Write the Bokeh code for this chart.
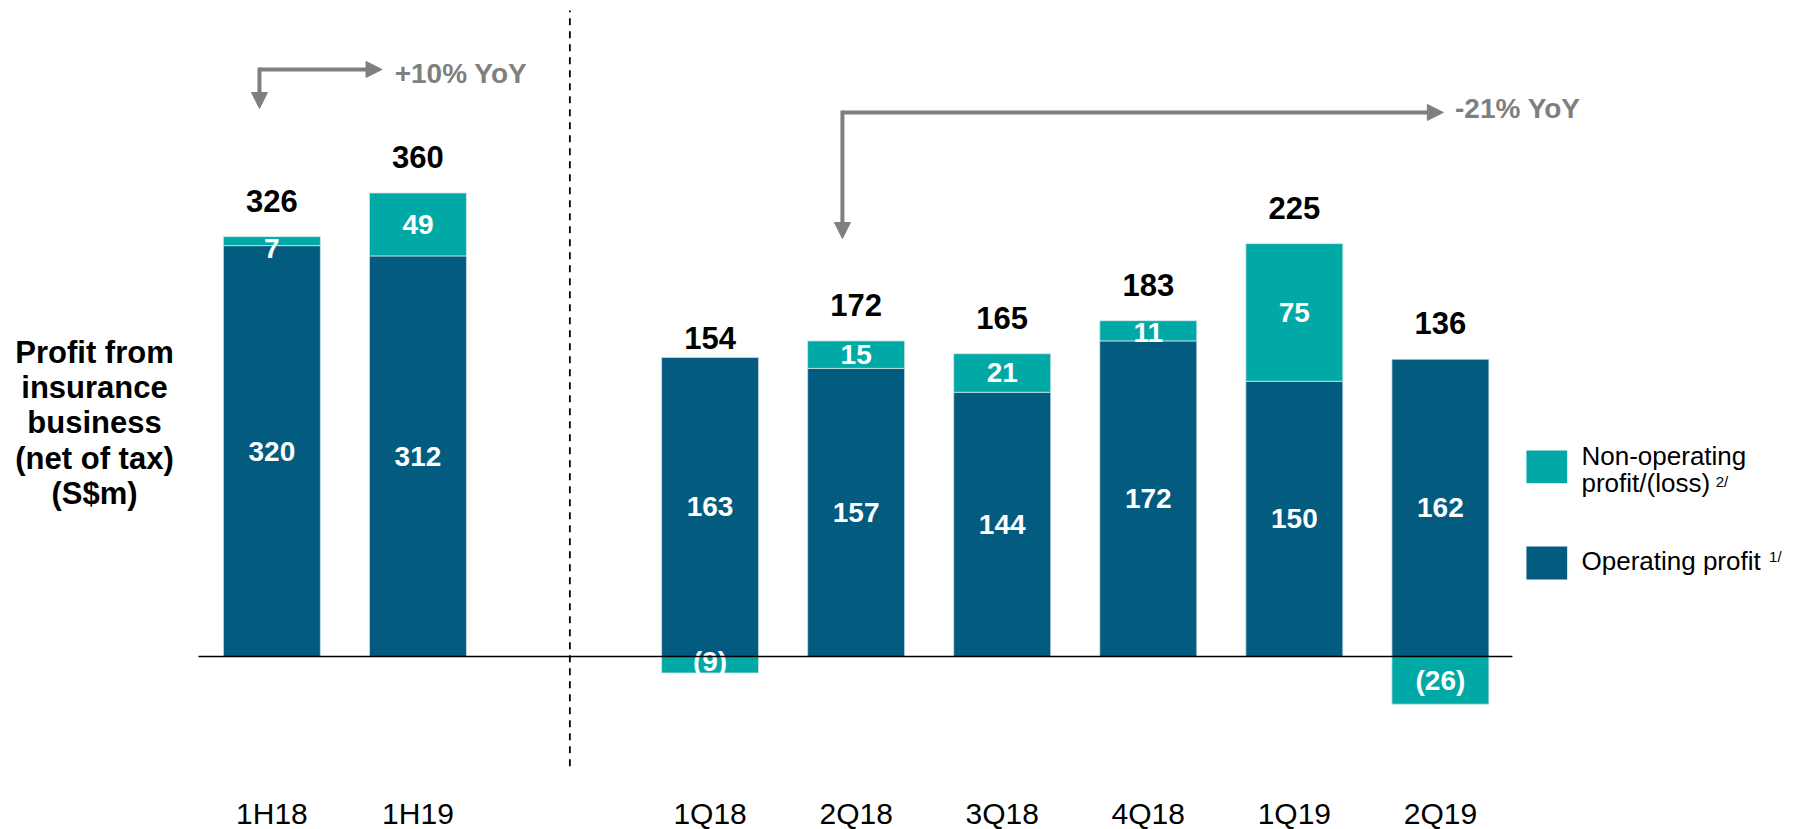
from bokeh.plotting import figure
from bokeh.models import Range1d, Arrow, NormalHead, ColumnDataSource
from bokeh.core.properties import value
from bokeh.embed import file_html
from bokeh.resources import INLINE

# ---------------- data ----------------
categories = ["1H18", "1H19", "1Q18", "2Q18", "3Q18", "4Q18", "1Q19", "2Q19"]
period_type = ["half", "half", "quarter", "quarter", "quarter", "quarter", "quarter", "quarter"]
operating = [320, 312, 163, 157, 144, 172, 150, 162]
non_operating = [7, 49, -9, 15, 21, 11, 75, -26]
totals = [326, 360, 154, 172, 165, 183, 225, 136]
title_lines = ["Profit from", "insurance", "business", "(net of tax)", "(S$m)"]
legend_nonop = ["Non-operating", "profit/(loss)"]
legend_op = ["Operating profit"]
legend_notes = ["2/", "1/"]
yoy_labels = ["+10% YoY", "-21% YoY"]

# ---------------- style ----------------
TEAL = "#00A9A6"
DARK = "#035B7F"
GRAY = "#7F7F7F"
FONT = value("Liberation Sans")
W, H = 1802, 829
BASE_Y = 656          # pixel row of the zero line inside the frame
HALF_PX = 1.284       # px per S$m for half-year bars
Q_PX = 1.835          # px per S$m for quarterly bars
BAR_W = 0.664

p = figure(width=W, height=H, output_backend="svg", toolbar_location=None,
           x_range=Range1d(-1.858, 10.479),
           y_range=Range1d(-(H - BASE_Y) / HALF_PX, BASE_Y / HALF_PX),
           x_axis_location=None, y_axis_location=None, min_border=0,
           outline_line_color=None, title_location=None)
p.extra_y_ranges = {"q": Range1d(-(H - BASE_Y) / Q_PX, BASE_Y / Q_PX)}
p.grid.visible = False
p.background_fill_color = "white"
p.border_fill_color = "white"

# x positions: one empty slot between the half-year and quarterly groups
pos = [i + (1 if period_type[i] == "quarter" else 0) for i in range(len(categories))]

for grp, rname, pxu in (("half", "default", HALF_PX), ("quarter", "q", Q_PX)):
    idx = [i for i in range(len(categories)) if period_type[i] == grp]
    xs = [pos[i] for i in idx]
    op = [operating[i] for i in idx]
    no = [non_operating[i] for i in idx]
    tt = [totals[i] for i in idx]
    t_bot = [o if n >= 0 else n for o, n in zip(op, no)]
    t_top = [o + n if n >= 0 else 0 for o, n in zip(op, no)]
    src = ColumnDataSource(dict(x=xs, op=op, zero=[0] * len(xs), t_bot=t_bot, t_top=t_top))
    p.vbar(x="x", bottom="zero", top="op", width=BAR_W, source=src, y_range_name=rname,
           fill_color=DARK, line_color="#CFE0E8", line_width=0.8)
    p.vbar(x="x", bottom="t_bot", top="t_top", width=BAR_W, source=src, y_range_name=rname,
           fill_color=TEAL, line_color="#CFE6E6", line_width=0.8)

    # white segment labels
    op_src = ColumnDataSource(dict(x=xs, y=[o / 2 for o in op], t=[str(o) for o in op]))
    p.text(x="x", y="y", text="t", source=op_src, y_range_name=rname,
           text_font=FONT, text_font_size="28px", text_font_style="bold",
           text_color="white", text_align="center", text_baseline="middle")
    seg_y, seg_off, seg_t = [], [], []
    for b, t, n in zip(t_bot, t_top, no):
        seg_y.append((b + t) / 2)
        h_px = abs(t - b) * pxu
        shift = max(0.0, (24 - h_px) / 2)
        seg_off.append(shift if n >= 0 else -shift)
        seg_t.append(str(n) if n >= 0 else "(%d)" % abs(n))
    nsrc = ColumnDataSource(dict(x=xs, y=seg_y, off=seg_off, t=seg_t))
    p.text(x="x", y="y", text="t", y_offset="off", source=nsrc, y_range_name=rname,
           text_font=FONT, text_font_size="28px", text_font_style="bold",
           text_color="white", text_align="center", text_baseline="middle")

    # totals above bars
    base = [t if n > -20 else o for t, n, o in zip(tt, no, op)]
    base = [max(b, o + max(n, 0)) if n >= 0 else b for b, o, n in zip(base, op, no)]
    tsrc = ColumnDataSource(dict(x=xs, y=base, t=[str(v) for v in tt]))
    p.text(x="x", y="y", text="t", y_offset=-36, source=tsrc, y_range_name=rname,
           text_font=FONT, text_font_size="31px", text_font_style="bold",
           text_color="black", text_align="center", text_baseline="middle")

# zero line and divider
p.segment(x0=[pos[0] - 0.5025], x1=[pos[-1] + 0.493], y0=[0], y1=[0],
          line_color="black", line_width=1.5)
p.segment(x0=[2.04], x1=[2.04], y0=[-85.4], y1=[503.1],
          line_color="black", line_width=1.8, line_dash="7 6")

# category labels under the bars
p.text(x=pos, y=[p.y_range.start] * len(pos), text=categories, y_offset=-16,
       text_font=FONT, text_font_size="30px", text_color="black",
       text_align="center", text_baseline="middle")

# y-axis title (left)
p.text(x=[-1.2145] * len(title_lines), y=[237.0 - 27.49 * i for i in range(len(title_lines))],
       text=title_lines, text_font=FONT, text_font_size="31px", text_font_style="bold",
       text_color="black", text_align="center", text_baseline="middle")

# YoY elbow arrows
def elbow(cx, cy, tip_y, tip_x, rname, pxu):
    ext = 2.0 / pxu
    p.add_layout(Arrow(x_start=cx, y_start=cy + ext, x_end=cx, y_end=tip_y, y_range_name=rname,
                       line_color=GRAY, line_width=4,
                       end=NormalHead(size=16, fill_color=GRAY, line_color=GRAY)))
    p.add_layout(Arrow(x_start=cx, y_start=cy, x_end=tip_x, y_end=cy, y_range_name=rname,
                       line_color=GRAY, line_width=4,
                       end=NormalHead(size=16, fill_color=GRAY, line_color=GRAY)))

elbow(-0.085, 457.2, 426.8, 0.754, "default", HALF_PX)
elbow(3.906, 296.5, 227.8, 8.02, "q", Q_PX)
p.text(x=[0.8407], y=[453.8], text=[yoy_labels[0]], text_font=FONT, text_font_size="28px",
       text_font_style="bold", text_color=GRAY, text_align="left", text_baseline="middle")
p.text(x=[8.100], y=[298.5], text=[yoy_labels[1]], text_font=FONT, text_font_size="28px",
       text_font_style="bold", text_color=GRAY, text_align="left", text_baseline="middle",
       y_range_name="q")

# legend (right)
p.quad(left=[8.589, 8.589], right=[8.868, 8.868], bottom=[135.0, 60.0], top=[160.4, 85.7],
       fill_color=[TEAL, DARK], line_color=None)
p.text(x=[8.966, 8.966, 8.966], y=[156.5, 135.5, 74.0], text=legend_nonop + legend_op,
       text_font=FONT, text_font_size="26px", text_color="black",
       text_align="left", text_baseline="middle")
p.text(x=[9.885, 10.25], y=[136.5, 78.0], text=legend_notes,
       text_font=FONT, text_font_size="15px", text_color="black",
       text_align="left", text_baseline="middle")

open("out.html", "w").write(file_html(p, INLINE))
